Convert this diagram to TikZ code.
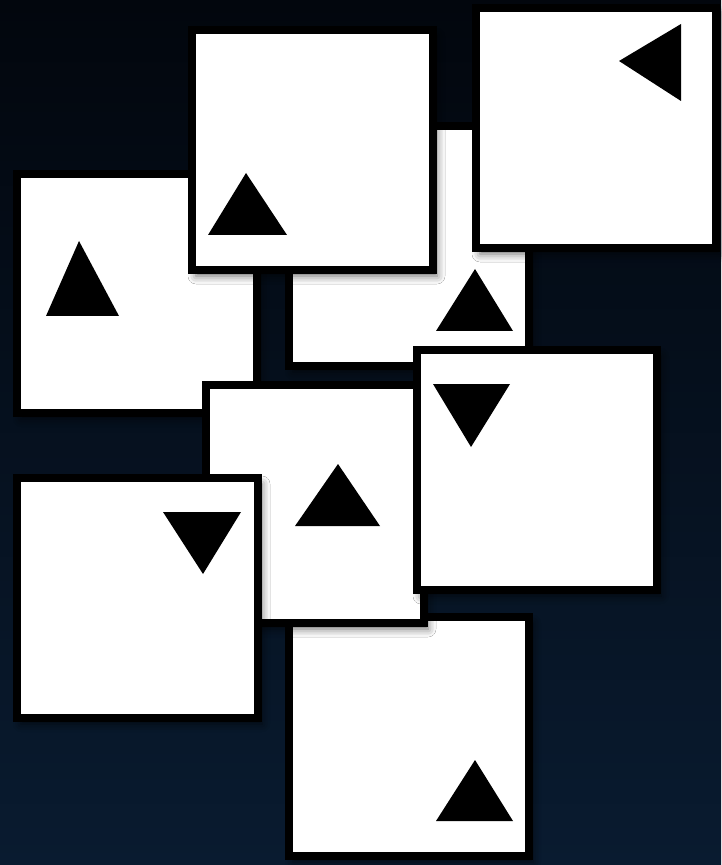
\documentclass[tikz,border=0pt]{standalone}
\usepackage{xcolor}
\usepackage{tikz}
\usetikzlibrary{shadows.blur}
\definecolor{bgtop}{RGB}{2,6,13}
\definecolor{bgbot}{RGB}{9,27,48}

\begin{document}
\begin{tikzpicture}[x=0.5pt, y=-0.5pt,
    card/.style={draw=black, fill=white, line width=4.25pt,
      blur shadow={shadow xshift=2pt, shadow yshift=-3pt, shadow blur radius=4pt, shadow opacity=60}},
    tri/.style={fill=black}]
    \shade[top color=bgtop, bottom color=bgbot] (0,0) rectangle (721,865);
    \useasboundingbox (0,0) rectangle (721,865);
    % cards from back to front
    \draw[card] (17,174) rectangle (257,413);
    \fill[tri] (79,241) -- (46,316) -- (119,316) -- cycle;
    \draw[card] (289,126) rectangle (529,366);
    \fill[tri] (475,269) -- (436,331) -- (513,331) -- cycle;
    \draw[card] (192,30) rectangle (433,270);
    \fill[tri] (246,173) -- (208,235) -- (287,235) -- cycle;
    \draw[card] (476,8) rectangle (716,248);
    \fill[tri] (619,61) -- (681,24) -- (681,101) -- cycle;
    \draw[card] (289,617) rectangle (529,856);
    \fill[tri] (475,760) -- (436,821) -- (513,821) -- cycle;
    \draw[card] (206,385) rectangle (424,623);
    \fill[tri] (338,464) -- (295,526) -- (380,526) -- cycle;
    \draw[card] (417,350) rectangle (657,590);
    \fill[tri] (433,384) -- (510,384) -- (471,447) -- cycle;
    \draw[card] (17,478) rectangle (258,718);
    \fill[tri] (163,512) -- (241,512) -- (203,574) -- cycle;
\end{tikzpicture}
\end{document}
